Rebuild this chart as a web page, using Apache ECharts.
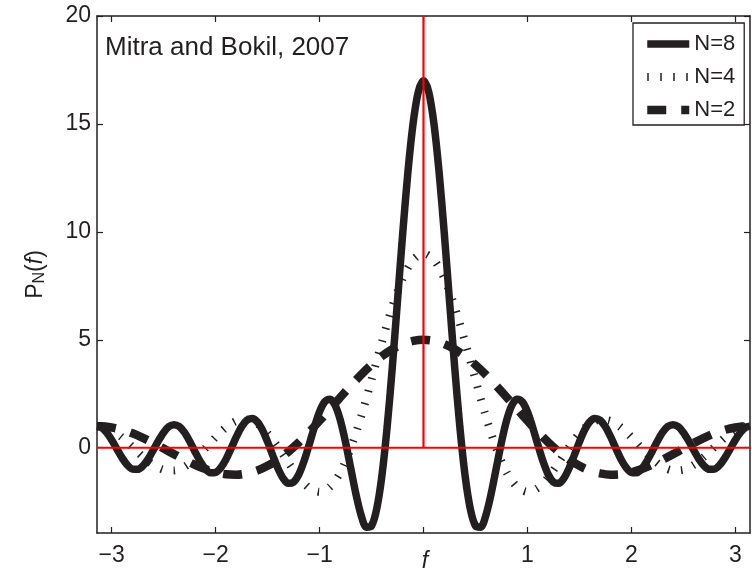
<!DOCTYPE html>
<html>
<head>
<meta charset="utf-8">
<script src="https://cdn.jsdelivr.net/npm/echarts@6/dist/echarts.min.js"></script>
<style>
  html, body { margin: 0; padding: 0; background: #fff; }
  #linecharts { width: 752px; height: 573px; }
</style>
</head>
<body>
<div id="linecharts"></div>
<script>
// f sample positions for N=8 (step 0.05) and for N=4 / N=2 (step 0.1)
var fFine = [-3.1416, -3.1, -3.05, -3, -2.95, -2.9, -2.85, -2.8, -2.75, -2.7, -2.65, -2.6, -2.55, -2.5, -2.45, -2.4, -2.35, -2.3, -2.25, -2.2, -2.15, -2.1, -2.05, -2, -1.95, -1.9, -1.85, -1.8, -1.75, -1.7, -1.65, -1.6, -1.55, -1.5, -1.45, -1.4, -1.35, -1.3, -1.25, -1.2, -1.15, -1.1, -1.05, -1, -0.95, -0.9, -0.85, -0.8, -0.75, -0.7, -0.65, -0.6, -0.55, -0.5, -0.45, -0.4, -0.35, -0.3, -0.25, -0.2, -0.15, -0.1, -0.05,
  0, 0.05, 0.1, 0.15, 0.2, 0.25, 0.3, 0.35, 0.4, 0.45, 0.5, 0.55, 0.6, 0.65, 0.7, 0.75, 0.8, 0.85, 0.9, 0.95, 1, 1.05, 1.1, 1.15, 1.2, 1.25, 1.3, 1.35, 1.4, 1.45, 1.5, 1.55, 1.6, 1.65, 1.7, 1.75, 1.8, 1.85, 1.9, 1.95, 2, 2.05, 2.1, 2.15, 2.2, 2.25, 2.3, 2.35, 2.4, 2.45, 2.5, 2.55, 2.6, 2.65, 2.7, 2.75, 2.8, 2.85, 2.9, 2.95, 3, 3.05, 3.1, 3.1416];
var fCoarse = [-3.1416, -3.1, -3, -2.9, -2.8, -2.7, -2.6, -2.5, -2.4, -2.3, -2.2, -2.1, -2, -1.9, -1.8, -1.7, -1.6, -1.5, -1.4, -1.3, -1.2, -1.1, -1, -0.9, -0.8, -0.7, -0.6, -0.5, -0.4, -0.3, -0.2, -0.1,
  0, 0.1, 0.2, 0.3, 0.4, 0.5, 0.6, 0.7, 0.8, 0.9, 1, 1.1, 1.2, 1.3, 1.4, 1.5, 1.6, 1.7, 1.8, 1.9, 2, 2.1, 2.2, 2.3, 2.4, 2.5, 2.6, 2.7, 2.8, 2.9, 3, 3.1, 3.1416];

var pN8 = [1.00, 0.94, 0.71, 0.36, -0.06, -0.47, -0.80, -0.99, -1.00, -0.84, -0.53, -0.11, 0.33, 0.71, 0.98, 1.07, 0.98, 0.71, 0.30, -0.17, -0.62, -0.97, -1.16, -1.14, -0.92, -0.53, -0.02, 0.51, 0.97, 1.27, 1.35, 1.20, 0.82, 0.27, -0.36, -0.96, -1.42, -1.65, -1.59, -1.24, -0.63, 0.14, 0.96, 1.67, 2.13, 2.25, 1.96, 1.27, 0.25, -0.95, -2.15, -3.13, -3.68, -3.62, -2.83, -1.29, 0.95, 3.73, 6.82, 9.93, 12.77, 15.03, 16.49,
  17, 16.49, 15.03, 12.77, 9.93, 6.82, 3.73, 0.95, -1.29, -2.83, -3.62, -3.68, -3.13, -2.15, -0.95, 0.25, 1.27, 1.96, 2.25, 2.13, 1.67, 0.96, 0.14, -0.63, -1.24, -1.59, -1.65, -1.42, -0.96, -0.36, 0.27, 0.82, 1.20, 1.35, 1.27, 0.97, 0.51, -0.02, -0.53, -0.92, -1.14, -1.16, -0.97, -0.62, -0.17, 0.30, 0.71, 0.98, 1.07, 0.98, 0.71, 0.33, -0.11, -0.53, -0.84, -1.00, -0.99, -0.80, -0.47, -0.06, 0.36, 0.71, 0.94, 1.00];
var pN4 = [1.00, 0.98, 0.81, 0.47, 0.03, -0.42, -0.79, -1.02, -1.05, -0.88, -0.51, -0.03, 0.49, 0.94, 1.24, 1.30, 1.11, 0.66, 0.03, -0.69, -1.37, -1.86, -2.04, -1.81, -1.14, -0.02, 1.45, 3.15, 4.90, 6.53, 7.85, 8.70,
  9, 8.70, 7.85, 6.53, 4.90, 3.15, 1.45, -0.02, -1.14, -1.81, -2.04, -1.86, -1.37, -0.69, 0.03, 0.66, 1.11, 1.30, 1.24, 0.94, 0.49, -0.03, -0.51, -0.88, -1.05, -1.02, -0.79, -0.42, 0.03, 0.47, 0.81, 0.98, 1.00];
var pN2 = [1.00, 1.00, 0.94, 0.83, 0.67, 0.46, 0.22, -0.04, -0.30, -0.56, -0.79, -0.99, -1.14, -1.23, -1.25, -1.19, -1.06, -0.84, -0.55, -0.18, 0.25, 0.73, 1.25, 1.79, 2.34, 2.87, 3.38, 3.84, 4.24, 4.56, 4.80, 4.95,
  5, 4.95, 4.80, 4.56, 4.24, 3.84, 3.38, 2.87, 2.34, 1.79, 1.25, 0.73, 0.25, -0.18, -0.55, -0.84, -1.06, -1.19, -1.25, -1.23, -1.14, -0.99, -0.79, -0.56, -0.30, -0.04, 0.22, 0.46, 0.67, 0.83, 0.94, 1.00, 1.00];

// red reference lines
var zeroLineF = [-3.1416, 3.1416];
var zeroLineP = [0, 0];
var centerLineF = [0, 0];
var centerLineP = [0, 20];

var xTicks = [-3, -2, -1, 0, 1, 2, 3];
var xTickLabels = [-3, -2, -1, 1, 2, 3]; // the 0 slot is taken by the axis name
var yTicks = [0, 5, 10, 15, 20];
var seriesNames = ["N=8", "N=4", "N=2"];

var font = "'Liberation Sans', Arial, Helvetica, sans-serif";
var ink = "#231f20";

function pairs(xs, ys) {
  return xs.map(function (x, i) { return [x, ys[i]]; });
}
function minusFmt(v) {
  return v < 0 ? "\u2212" + Math.abs(v) : String(v);
}

function axisBase(pos, ticks, labels, showLabel) {
  return {
    type: "value",
    position: pos,
    axisLine: { show: true, onZero: false, lineStyle: { color: ink, width: 1.5 } },
    axisTick: { show: true, inside: true, length: 6, customValues: ticks, lineStyle: { color: ink, width: 1.2 } },
    axisLabel: { show: showLabel, customValues: labels, formatter: minusFmt, color: ink, fontSize: 23, fontFamily: font },
    splitLine: { show: false },
  };
}

var xBottom = axisBase("bottom", xTicks, xTickLabels, true);
xBottom.min = -3.1416; xBottom.max = 3.1416;
xBottom.axisLabel.margin = 11;
var xTop = axisBase("top", xTicks, xTicks, false);
xTop.min = -3.1416; xTop.max = 3.1416;

var yLeft = axisBase("left", yTicks, yTicks, true);
yLeft.min = -3.95; yLeft.max = 20;
yLeft.axisLabel.margin = 6;
yLeft.name = "{a|P}{s|N}{a|(}{i|f}{a|)}";
yLeft.nameLocation = "middle";
yLeft.nameGap = 49;
yLeft.nameTextStyle = {
  color: ink,
  fontFamily: font,
  rich: {
    a: { fontSize: 23, color: ink, fontFamily: font },
    i: { fontSize: 23, color: ink, fontFamily: font, fontStyle: "italic" },
    s: { fontSize: 16, color: ink, fontFamily: font, verticalAlign: "bottom", padding: [8, 0, 0, 0] },
  },
};
var yRight = axisBase("right", yTicks, yTicks, false);
yRight.min = -3.95; yRight.max = 20;

var chart = echarts.init(document.getElementById("linecharts"), null, { renderer: "canvas" });
chart.setOption({
  animation: false,
  backgroundColor: "#fff",
  grid: { left: 97, right: 2, top: 16, bottom: 40, containLabel: false },
  xAxis: [xBottom, xTop],
  yAxis: [yLeft, yRight],
  legend: {
    data: seriesNames,
    orient: "vertical",
    left: 633,
    top: 23,
    itemWidth: 42,
    itemHeight: 20,
    itemGap: 11,
    padding: [10, 9, 4, 10],
    borderColor: ink,
    borderWidth: 1.3,
    backgroundColor: "#fff",
    itemStyle: { opacity: 0 },
    lineStyle: { width: "inherit" },
    textStyle: { color: ink, fontSize: 22, fontFamily: font },
  },
  graphic: [
    {
      type: "text",
      x: 105,
      y: 48,
      style: { text: "Mitra and Bokil, 2007", fill: ink, fontSize: 26, fontFamily: font, verticalAlign: "middle" },
    },
    {
      // x axis title, sits where the 0 tick label would be
      type: "text",
      x: 425,
      y: 562,
      style: { text: "f", fill: ink, fontSize: 23, fontStyle: "italic", fontFamily: font, align: "center", verticalAlign: "middle" },
    },
  ],
  series: [
    {
      name: "N=8",
      type: "line",
      symbol: "none",
      smooth: 0.3,
      data: pairs(fFine, pN8),
      lineStyle: { color: ink, width: 7.5 },
      itemStyle: { color: ink },
    },
    {
      name: "N=4",
      type: "line",
      symbol: "none",
      smooth: 0.3,
      data: pairs(fCoarse, pN4),
      lineStyle: { color: ink, width: 8, type: [1.5, 11.5], cap: "butt" },
      itemStyle: { color: ink },
    },
    {
      name: "N=2",
      type: "line",
      symbol: "none",
      smooth: 0.3,
      data: pairs(fCoarse, pN2),
      lineStyle: { color: ink, width: 8.5, type: [19, 15], cap: "butt" },
      itemStyle: { color: ink },
    },
    {
      name: "zero",
      type: "line",
      symbol: "none",
      data: pairs(zeroLineF, zeroLineP),
      lineStyle: { color: "#ff0000", width: 2.2 },
      z: 5,
    },
    {
      name: "center",
      type: "line",
      symbol: "none",
      data: pairs(centerLineF, centerLineP),
      lineStyle: { color: "#ff0000", width: 2.2 },
      z: 5,
    },
  ],
});
</script>
</body>
</html>
